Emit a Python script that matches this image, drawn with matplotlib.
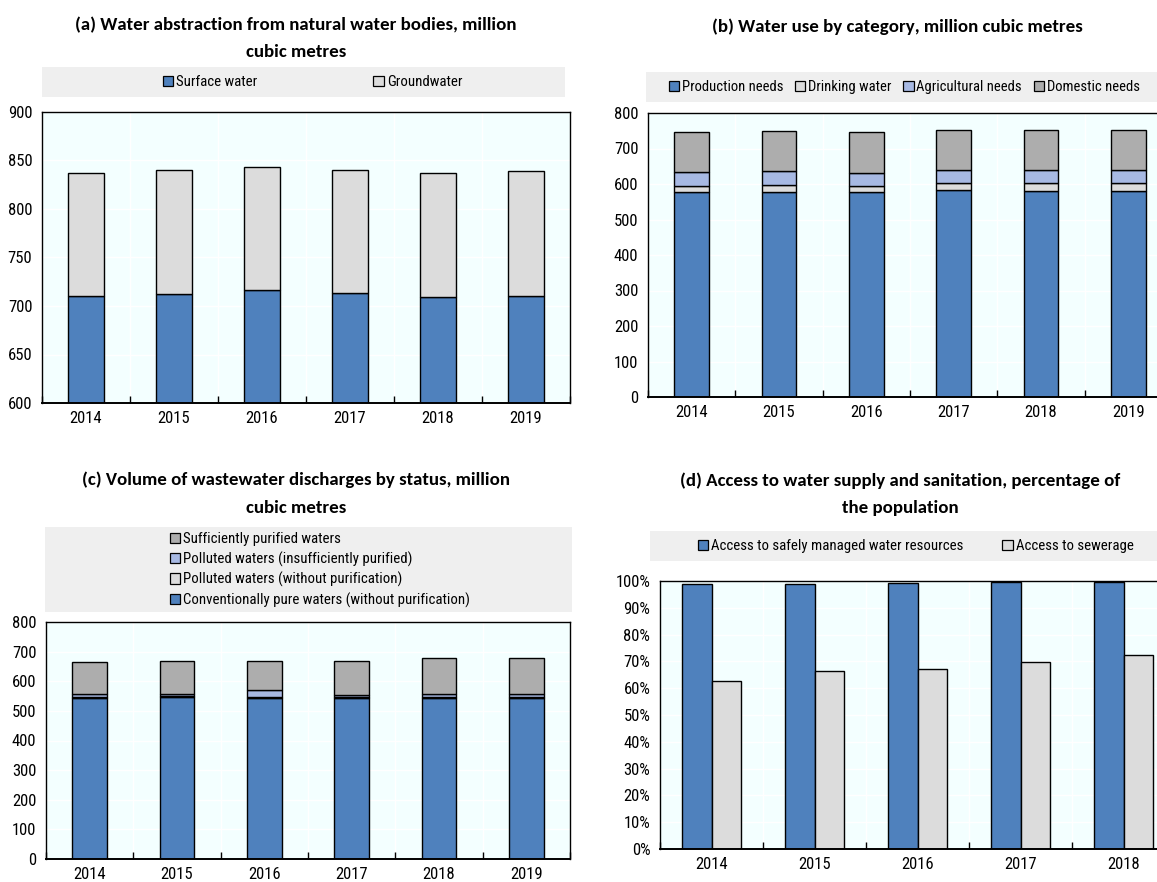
import numpy as np
import matplotlib
matplotlib.use("Agg")
from matplotlib import pyplot as plt
from matplotlib.patches import Patch, Rectangle
from matplotlib.ticker import PercentFormatter

years = ["2014", "2015", "2016", "2017", "2018", "2019"]
years_access = ["2014", "2015", "2016", "2017", "2018"]

# (a) abstraction, million m3
surface_water = [710, 712, 717, 713, 709, 710]
groundwater = [127, 128, 126, 127, 128, 129]

# (b) use by category, million m3
production_needs = [578, 578, 578, 583, 581, 581]
drinking_water = [16, 18, 16, 21, 22, 22]
agricultural_needs = [39, 40, 38, 36, 37, 37]
domestic_needs = [113, 113, 115, 113, 111, 111]

# (c) wastewater discharges, million m3
conventionally_pure = [544, 546, 543, 543, 544, 545]
polluted_no_purification = [4, 3, 3, 3, 3, 3]
polluted_insufficient = [8, 7, 25, 7, 9, 9]
sufficiently_purified = [108, 111, 96, 114, 122, 122]

# (d) access, % of population
access_water = [99.0, 99.0, 99.4, 99.8, 99.8]
access_sewerage = [62.7, 66.6, 67.1, 69.6, 72.3]

BLUE = "#4F81BD"
LIGHT_GREY = "#DCDCDC"
LIGHT_BLUE = "#A7B9E3"
DARK_GREY = "#ADADAD"
AX_BG = "#F3FFFF"
LEG_BG = "#EFEFEF"

W, H = 1157, 882
plt.rcParams["font.family"] = ["Roboto Condensed", "DejaVu Sans"]
plt.rcParams["font.size"] = 12

fig = plt.figure(figsize=(W / 100, H / 100), dpi=100)


def px_rect(x0, y0, x1, y1):
    # pixel box (top-left origin) -> figure fraction [l, b, w, h]
    return [x0 / W, 1 - y1 / H, (x1 - x0) / W, (y1 - y0) / H]


def add_axes(x0, y0, x1, y1):
    ax = fig.add_axes(px_rect(x0, y0, x1, y1))
    ax.set_facecolor(AX_BG)
    for s in ax.spines.values():
        s.set_color("black")
        s.set_linewidth(1.0)
    ax.spines["bottom"].set_linewidth(1.4)
    ax.set_axisbelow(True)
    ax.tick_params(axis="y", length=0, pad=7, labelsize=12)
    ax.tick_params(axis="x", which="major", length=0, pad=6, labelsize=12)
    ax.tick_params(axis="x", which="minor", direction="in", length=5,
                   width=1, color="black")
    ax.grid(axis="y", color="white", lw=1)
    ax.grid(axis="x", which="minor", color="white", lw=1)
    return ax


def legend_box(x0, y0, x1, y1):
    fig.patches.append(Rectangle((x0 / W, 1 - y1 / H), (x1 - x0) / W,
                                 (y1 - y0) / H, transform=fig.transFigure,
                                 facecolor=LEG_BG, edgecolor="none", zorder=-1))


def title(x, y, text):
    fig.text(x / W, 1 - y / H, text, ha="center", va="center",
             fontsize=13.6, fontweight="bold", family=["Carlito", "DejaVu Sans"])


def handles(colors, labels):
    return [Patch(facecolor=c, edgecolor="black", lw=0.9, label=l)
            for c, l in zip(colors, labels)]


def stacked(ax, series, colors):
    x = np.arange(len(years))
    bottom = np.zeros(len(years))
    for vals, c in zip(series, colors):
        ax.bar(x, vals, 0.4, bottom=bottom, color=c, edgecolor="black",
               linewidth=1.0)
        bottom += np.array(vals)
    ax.set_xlim(-0.5, len(years) - 0.5)
    ax.set_xticks(x)
    ax.set_xticklabels(years)
    ax.set_xticks(np.arange(len(years) + 1) - 0.5, minor=True)


leg_kw = dict(frameon=False, handlelength=0.7, handleheight=0.7,
              handletextpad=0.2, fontsize=10.7, borderaxespad=0)

# (a)
title(296, 25, "(a) Water abstraction from natural water bodies, million")
title(296, 52, "cubic metres")
legend_box(42, 67, 565, 97)
ax_a = add_axes(42, 112, 570, 403)
stacked(ax_a, [surface_water, groundwater], [BLUE, LIGHT_GREY])
ax_a.set_ylim(600, 900)
ax_a.set_yticks(np.arange(600, 901, 50))
ax_a.legend(handles=handles([BLUE, LIGHT_GREY], ["Surface water", "Groundwater"]),
            loc="center left", bbox_to_anchor=(157 / W, 1 - 82 / H),
            bbox_transform=fig.transFigure, ncol=2, columnspacing=7.8, **leg_kw)

# (b)
title(897, 27, "(b) Water use by category, million cubic metres")
legend_box(646, 72, 1157, 102)
ax_b = add_axes(648, 113, 1172, 397)
stacked(ax_b, [production_needs, drinking_water, agricultural_needs, domestic_needs],
        [BLUE, LIGHT_GREY, LIGHT_BLUE, DARK_GREY])
ax_b.set_ylim(0, 800)
ax_b.set_yticks(np.arange(0, 801, 100))
leg_b = dict(leg_kw, fontsize=10.5)
ax_b.legend(handles=handles([BLUE, LIGHT_GREY, LIGHT_BLUE, DARK_GREY],
                            ["Production needs", "Drinking water",
                             "Agricultural needs", "Domestic needs"]),
            loc="center left", bbox_to_anchor=(663 / W, 1 - 87 / H),
            bbox_transform=fig.transFigure, ncol=4, columnspacing=0.8, **leg_b)

# (c)
title(296, 480, "(c) Volume of wastewater discharges by status, million")
title(296, 508, "cubic metres")
legend_box(45, 527, 572, 612)
ax_c = add_axes(46, 622, 570, 859)
stacked(ax_c, [conventionally_pure, polluted_no_purification,
               polluted_insufficient, sufficiently_purified],
        [BLUE, LIGHT_GREY, LIGHT_BLUE, DARK_GREY])
ax_c.set_ylim(0, 800)
ax_c.set_yticks(np.arange(0, 801, 100))
ax_c.legend(handles=handles([DARK_GREY, LIGHT_BLUE, LIGHT_GREY, BLUE],
                            ["Sufficiently purified waters",
                             "Polluted waters (insufficiently purified)",
                             "Polluted waters (without purification)",
                             "Conventionally pure waters (without purification)"]),
            loc="center left", bbox_to_anchor=(164 / W, 1 - 570 / H),
            bbox_transform=fig.transFigure, ncol=1, labelspacing=0.35, **leg_kw)

# (d)
title(900, 481, "(d) Access to water supply and sanitation, percentage of")
title(900, 508, "the population")
legend_box(650, 531, 1157, 561)
ax_d = add_axes(660, 581, 1175, 849)
xd = np.arange(len(years_access))
ax_d.bar(xd - 0.145, access_water, 0.29, color=BLUE, edgecolor="black", linewidth=1.0)
ax_d.bar(xd + 0.145, access_sewerage, 0.29, color=LIGHT_GREY, edgecolor="black",
         linewidth=1.0)
ax_d.set_xlim(-0.5, len(years_access) - 0.5)
ax_d.set_xticks(xd)
ax_d.set_xticklabels(years_access)
ax_d.set_xticks(np.arange(len(years_access) + 1) - 0.5, minor=True)
ax_d.set_ylim(0, 100)
ax_d.set_yticks(np.arange(0, 101, 10))
ax_d.yaxis.set_major_formatter(PercentFormatter(decimals=0))
ax_d.legend(handles=handles([BLUE, LIGHT_GREY],
                            ["Access to safely managed water resources",
                             "Access to sewerage"]),
            loc="center left", bbox_to_anchor=(692 / W, 1 - 546 / H),
            bbox_transform=fig.transFigure, ncol=2, columnspacing=2.6, **leg_kw)

fig.savefig("out.png", dpi=100, facecolor="white")
